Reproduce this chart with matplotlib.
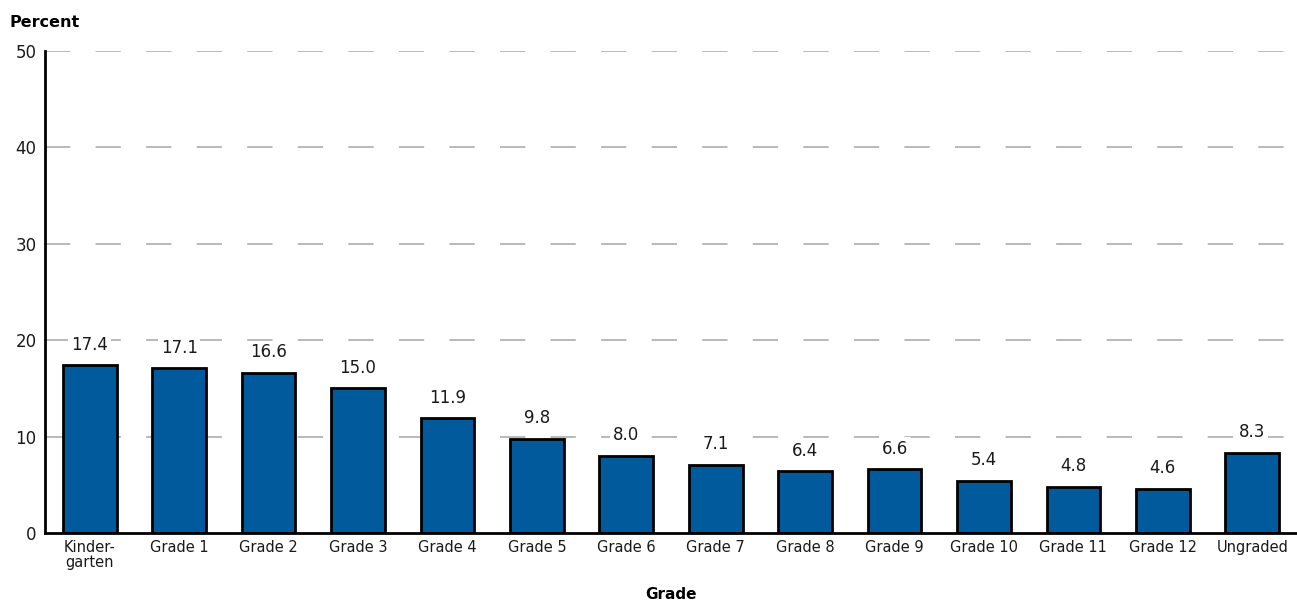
import matplotlib.pyplot as plt
import numpy as np

# data
grades = ["Kinder-\ngarten", "Grade 1", "Grade 2", "Grade 3", "Grade 4", "Grade 5", "Grade 6",
          "Grade 7", "Grade 8", "Grade 9", "Grade 10", "Grade 11", "Grade 12", "Ungraded"]
percent = [17.4, 17.1, 16.6, 15.0, 11.9, 9.8, 8.0, 7.1, 6.4, 6.6, 5.4, 4.8, 4.6, 8.3]
yticks = [0, 10, 20, 30, 40, 50]

plt.rcParams['font.family'] = ['DejaVu Sans']

fig = plt.figure(figsize=(12.97, 6.03), dpi=100)
ax = fig.add_axes([0.0347, 0.1161, 0.9653, 0.7993])

x = np.arange(len(grades))
ax.bar(x, percent, width=0.6, color="#005a9c", edgecolor="black", linewidth=2, zorder=3)

# dashed grid
for t in yticks[1:]:
    ax.axhline(t, color="#b3b3b3", linestyle=(0, (14, 14)), linewidth=1.3, zorder=1)

# value labels
for xi, v in zip(x, percent):
    ax.text(xi, v + 1.2, f"{v:.1f}", ha="center", va="bottom", fontsize=12,
            color="#1a1a1a", zorder=4,
            bbox=dict(facecolor="white", edgecolor="none", pad=2))

ax.set_xlim(-0.5, 13.5)
ax.set_ylim(0, 50)
ax.set_yticks(yticks)
ax.set_xticks(x)
ax.set_xticklabels(grades, fontsize=10.5, color="#1a1a1a", linespacing=1.0)
ax.tick_params(axis="x", length=0, pad=5)
ax.tick_params(axis="y", length=0, pad=6, labelsize=12, labelcolor="#1a1a1a")

for s in ["top", "right"]:
    ax.spines[s].set_visible(False)
ax.spines["left"].set_linewidth(2)
ax.spines["bottom"].set_linewidth(2)
ax.spines["left"].set_zorder(5)
ax.spines["bottom"].set_zorder(5)

fig.text(0.0077, 0.962, "Percent", fontsize=11.5, fontweight="bold", ha="left", va="center")
ax.set_xlabel("Grade", fontsize=11, fontweight="bold", labelpad=12)

fig.savefig("out.png", dpi=100)
